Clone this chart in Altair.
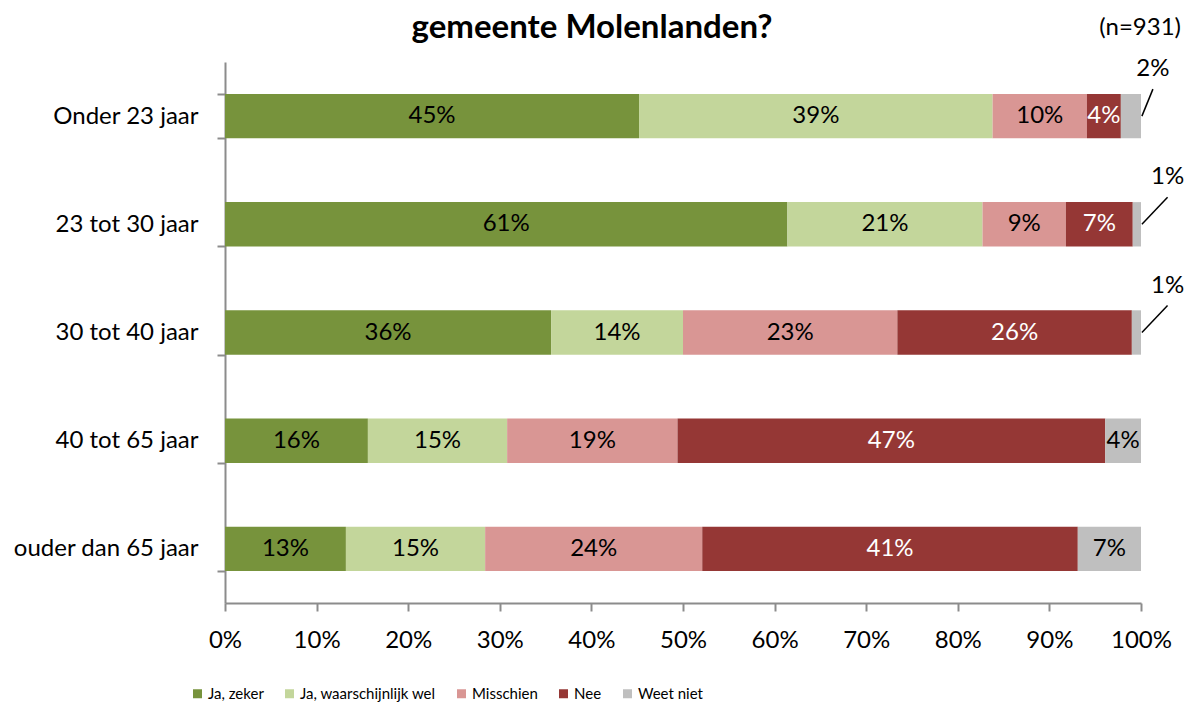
import altair as alt
import pandas as pd

TITLE = "gemeente Molenlanden?"
N_NOTE = "(n=931)"
CATEGORIES = ["Onder 23 jaar", "23 tot 30 jaar", "30 tot 40 jaar", "40 tot 65 jaar", "ouder dan 65 jaar"]
SERIES = ["Ja, zeker", "Ja, waarschijnlijk wel", "Misschien", "Nee", "Weet niet"]
COLORS = ["#77933C", "#C3D69B", "#D99694", "#953735", "#BFBFBF"]
JA_ZEKER = [45.2, 61.4, 35.6, 15.6, 13.2]
JA_WAARSCHIJNLIJK = [38.6, 21.3, 14.4, 15.2, 15.2]
MISSCHIEN = [10.3, 9.1, 23.4, 18.6, 23.7]
NEE = [3.7, 7.3, 25.6, 46.7, 41.0]
WEET_NIET = [2.2, 0.9, 1.0, 3.9, 6.9]
# 'Weet niet' labels that sit outside the bar, with a leader line
OUTSIDE_LABEL = [True, True, True, False, False]
# layout of the leader lines (x end, in axis units)
LEADER_END = [101.3, 102.9, 102.9, None, None]

FONT = "Lato"
FS = 24
values = [JA_ZEKER, JA_WAARSCHIJNLIJK, MISSCHIEN, NEE, WEET_NIET]

rows = []
for i, cat in enumerate(CATEGORIES):
    start = 0.0
    for j, s in enumerate(SERIES):
        v = values[j][i]
        outside = (s == "Weet niet") and OUTSIDE_LABEL[i]
        rows.append(dict(
            cat=cat, series=s, order=j, value=v, start=start, end=start + v,
            mid=start + v / 2, label=f"{round(v)}%",
            txtcolor="white" if s == "Nee" else "black",
            inside=not outside,
            lead_start=start + v + 0.1,
            lead_end=LEADER_END[i] if outside else None,
        ))
        start += v
df = pd.DataFrame(rows)
df_in = df[df["inside"]]
df_out = df[~df["inside"]]

AXIS_GRAY = "#8c8c8c"
y_enc = alt.Y(
    "cat:N", sort=CATEGORIES,
    scale=alt.Scale(paddingInner=0.59, paddingOuter=0.295),
    axis=alt.Axis(title=None, tickBand="extent", tickSize=8, labelPadding=19,
                  labelFontSize=FS, labelFont=FONT, labelColor="#000000",
                  domainColor=AXIS_GRAY, tickColor=AXIS_GRAY, domainWidth=2, tickWidth=2,
                  labelLimit=0),
)
x_enc = alt.X(
    "start:Q",
    scale=alt.Scale(domain=[0, 100], nice=False),
    axis=alt.Axis(title=None, values=list(range(0, 101, 10)), labelExpr="datum.value + '%'",
                  grid=False, tickSize=8, labelPadding=17, labelFontSize=FS, labelFont=FONT,
                  labelColor="#000000", domainColor=AXIS_GRAY, tickColor=AXIS_GRAY,
                  domainWidth=2, tickWidth=2, labelFlush=False, labelOverlap=False),
)

bars = alt.Chart(df).mark_bar().encode(
    x=x_enc, x2="end:Q", y=y_enc,
    color=alt.Color("series:N", scale=alt.Scale(domain=SERIES, range=COLORS),
                    legend=alt.Legend(title=None, orient="none", legendX=-35, legendY=624,
                                      direction="horizontal", columns=5, symbolType="square",
                                      symbolSize=81, symbolStrokeWidth=0, labelFontSize=15,
                                      labelFont=FONT, labelColor="#000000", columnPadding=18,
                                      labelOffset=3, padding=0, labelLimit=0)),
    order=alt.Order("order:Q"),
)

labels_in = alt.Chart(df_in).mark_text(fontSize=FS, font=FONT, baseline="middle").encode(
    x="mid:Q", y=alt.Y("cat:N", sort=CATEGORIES), text="label:N",
    color=alt.Color("txtcolor:N", scale=None),
)

leaders = alt.Chart(df_out).mark_rule(color="black", strokeWidth=1.5, y2Offset=-27).encode(
    x="lead_start:Q", x2="lead_end:Q", y=alt.Y("cat:N", sort=CATEGORIES), y2=alt.Y2("cat"),
)

labels_out = alt.Chart(df_out).mark_text(fontSize=FS, font=FONT, baseline="middle", dy=-47).encode(
    x="lead_end:Q", y=alt.Y("cat:N", sort=CATEGORIES), text="label:N",
)

title = alt.Chart(pd.DataFrame({"t": [TITLE]})).mark_text(
    font=FONT, fontWeight="bold", fontSize=33, align="center", baseline="alphabetic", color="black"
).encode(x=alt.value(367), y=alt.value(-24), text="t:N")

note = alt.Chart(pd.DataFrame({"t": [N_NOTE]})).mark_text(
    font=FONT, fontSize=FS, align="right", baseline="alphabetic", color="black"
).encode(x=alt.value(956), y=alt.value(-27), text="t:N")

chart = alt.layer(bars, labels_in, leaders, labels_out, title, note).properties(
    width=916, height=541,
    autosize=alt.AutoSizeParams(type="none"),
    padding={"left": 217, "top": 54, "right": 44, "bottom": 101},
).configure_view(stroke=None)

chart.save("out.html", embed_options={"renderer": "svg", "actions": False})
